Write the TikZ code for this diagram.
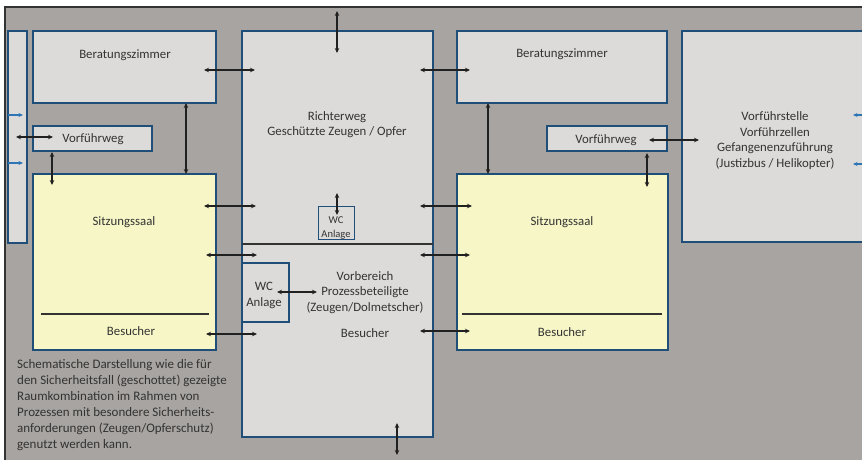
\documentclass[tikz,border=0pt]{standalone}
\usepackage{fontspec}
\setmainfont{Carlito}
\usetikzlibrary{arrows.meta}
\definecolor{bggray}{HTML}{A8A4A1}
\definecolor{roomgray}{HTML}{DCDBDA}
\definecolor{roomyellow}{HTML}{F7F6C6}
\definecolor{roomblue}{HTML}{1F4E79}
\definecolor{txtgray}{HTML}{333333}
\definecolor{arrblue}{HTML}{2E75B6}
\definecolor{arrblack}{HTML}{202020}
\tikzset{
  room/.style={draw=roomblue, line width=1.3pt, fill=roomgray},
  hall/.style={draw=roomblue, line width=2pt, fill=roomyellow},
  lbl/.style={text=txtgray, font=\fontsize{12.8}{15.5}\selectfont, align=center, inner sep=0pt},
  smalllbl/.style={text=txtgray, font=\fontsize{10.5}{14}\selectfont, align=center, inner sep=0pt},
  both/.style={draw=arrblack, line width=1.4pt, {Stealth[length=5pt,width=4.5pt]}-{Stealth[length=5pt,width=4.5pt]}},
  bluearr/.style={draw=arrblue, line width=1.1pt, -{Stealth[length=4.5pt,width=4pt]}},
  divider/.style={draw=txtgray, line width=1.2pt}
}
\begin{document}
\begin{tikzpicture}[x=1pt,y=-1pt]
\useasboundingbox (0,0) rectangle (862,459);
\begin{scope}
\clip (0,0) rectangle (862,459);
\fill[bggray] (5,7) rectangle (866,463);
\draw[txtgray, line width=1.2pt] (5,463) -- (5,7) -- (866,7);
% rooms
\path[room] (8,31) rectangle (27,243);
\node[inner sep=0pt] (strip) at (17.5,137) {};
\path[room] (33,31) rectangle (216,103);
\node[lbl] (bz1) at (125,55) {Beratungszimmer};
\path[room] (33,126) rectangle (152,151);
\node[lbl] (vw1) at (93,139) {Vorführweg};
\path[hall] (33,174) rectangle (216,350);
\node[lbl] (ss1) at (124,222) {Sitzungssaal};
\draw[divider] (41,314) -- (209,314);
\node[lbl] (bs1) at (131,331) {Besucher};

\path[room] (242,31) rectangle (433,437);
\draw[divider] (242,244) -- (433,244);
\node[lbl] (rw) at (337,124.5) {Richterweg\\Geschützte Zeugen / Opfer};
\path[room, line width=1pt] (318,206) rectangle (354,239);
\node[smalllbl] (wc1) at (336,228) {WC\\Anlage};
\path[room] (242,263) rectangle (289,322);
\node[lbl] (wc2) at (264,295.5) {WC\\Anlage};
\node[lbl] (vb) at (365,292.5) {Vorbereich\\Prozessbeteiligte\\(Zeugen/Dolmetscher)};
\node[lbl] (bsm) at (365,333) {Besucher};

\path[room] (457,31) rectangle (667,103);
\node[lbl] (bz2) at (562,54) {Beratungszimmer};
\path[room] (547,126) rectangle (667,151);
\node[lbl] (vw2) at (606,140) {Vorführweg};
\path[hall] (457,174) rectangle (668,350);
\node[lbl] (ss2) at (562,222) {Sitzungssaal};
\draw[divider] (462,314) -- (662,314);
\node[lbl] (bs2) at (562,332) {Besucher};

\path[room] (682,31) rectangle (870,242);
\node[lbl] (vf) at (775,140.5) {Vorführstelle\\Vorführzellen\\Gefangenenzuführung\\(Justizbus / Helikopter)};

% connector coordinates
\coordinate (a1) at (16,137);   \coordinate (a2) at (53,137);
\coordinate (b1) at (52,152);   \coordinate (b2) at (52,185);
\coordinate (c1) at (186,103);  \coordinate (c2) at (186,174);
\coordinate (d1) at (204,70);   \coordinate (d2) at (255,70);
\coordinate (e1) at (204,206);  \coordinate (e2) at (256,206);
\coordinate (f1) at (206,255);  \coordinate (f2) at (257,255);
\coordinate (g1) at (206,334);  \coordinate (g2) at (257,334);
\coordinate (h1) at (337,11);   \coordinate (h2) at (337,53);
\coordinate (i1) at (420,70);   \coordinate (i2) at (470,70);
\coordinate (j1) at (420,206);  \coordinate (j2) at (472,206);
\coordinate (k1) at (420,255);  \coordinate (k2) at (470,255);
\coordinate (l1) at (420,331);  \coordinate (l2) at (470,331);
\coordinate (m1) at (337,193);  \coordinate (m2) at (337,215);
\coordinate (n1) at (277,292);  \coordinate (n2) at (317,292);
\coordinate (o1) at (488,103);  \coordinate (o2) at (488,174);
\coordinate (p1) at (649,140);  \coordinate (p2) at (699,140);
\coordinate (q1) at (647,153);  \coordinate (q2) at (647,187);
\coordinate (r1) at (397,423);  \coordinate (r2) at (397,455);
\foreach \s in {a,b,c,d,e,f,g,h,i,j,k,l,m,n,o,p,q,r}{\draw[both] (\s1) -- (\s2);}

\coordinate (u1) at (8,115);   \coordinate (u2) at (23,115);
\coordinate (v1) at (8,163);   \coordinate (v2) at (23,163);
\coordinate (w1) at (863,115); \coordinate (w2) at (853,115);
\coordinate (z1) at (863,164); \coordinate (z2) at (853,164);
\foreach \s in {u,v,w,z}{\draw[bluearr] (\s1) -- (\s2);}

\node[text=txtgray, font=\fontsize{13}{16}\selectfont, align=left, anchor=north west, inner sep=0pt] (note) at (17,359.5)
{Schematische Darstellung wie die für\\den Sicherheitsfall (geschottet) gezeigte\\Raumkombination im Rahmen von\\Prozessen mit besondere Sicherheits-\\anforderungen (Zeugen/Opferschutz)\\genutzt werden kann.};
\end{scope}
\end{tikzpicture}
\end{document}
